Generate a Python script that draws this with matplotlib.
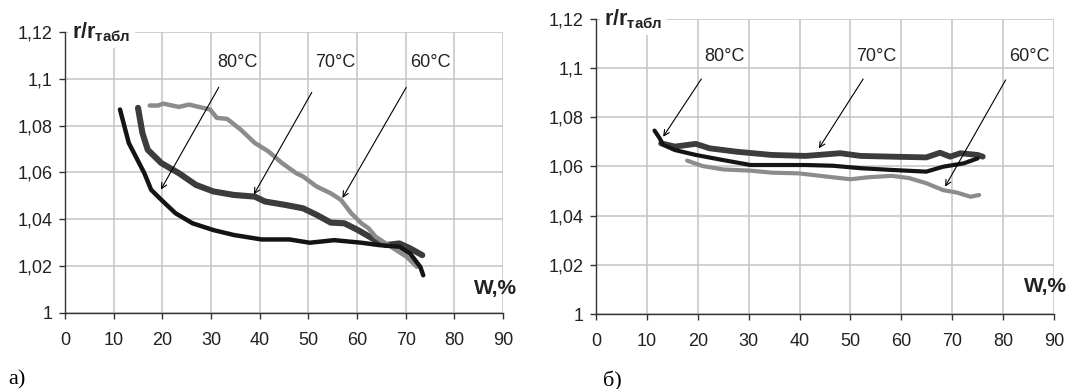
import matplotlib
matplotlib.use("Agg")
import matplotlib.pyplot as plt
from matplotlib.ticker import FuncFormatter, MultipleLocator

plt.rcParams["font.family"] = ["Liberation Sans", "DejaVu Sans"]
plt.rcParams["mathtext.fontset"] = "custom"
plt.rcParams["mathtext.rm"] = "Liberation Sans"
plt.rcParams["mathtext.bf"] = "Liberation Sans:bold"

# --- panel a) ---
a_w80 = [11.3, 13.1, 16.3, 17.7, 19.8, 22.7, 26.2, 30.5, 34.7, 40.4, 46.1, 50.3,
         55.3, 60.9, 64.5, 68.7, 70.9, 73.0, 73.6]
a_r80 = [1.0869, 1.0726, 1.0597, 1.0526, 1.0483, 1.0426, 1.0383, 1.0354, 1.0333,
         1.0314, 1.0314, 1.0300, 1.0311, 1.0300, 1.0290, 1.0283, 1.0254, 1.0197, 1.0161]
a_w70 = [15.0, 15.9, 17.0, 19.8, 23.4, 26.9, 30.5, 34.7, 39.0, 41.1, 45.4, 48.9,
         51.7, 54.6, 57.4, 60.2, 63.1, 65.9, 68.7, 70.9, 73.4]
a_r70 = [1.0876, 1.0769, 1.0697, 1.0640, 1.0597, 1.0547, 1.0519, 1.0504, 1.0497,
         1.0476, 1.0461, 1.0447, 1.0419, 1.0386, 1.0383, 1.0354, 1.0319, 1.0290,
         1.0297, 1.0276, 1.0247]
a_w60 = [17.4, 19.1, 20.2, 22.0, 23.4, 25.5, 28.3, 29.8, 31.2, 33.3, 36.1, 39.0,
         41.8, 44.6, 47.5, 48.9, 51.7, 54.6, 56.7, 58.8, 60.9, 62.4, 63.8, 65.9,
         68.0, 70.2, 72.3]
a_r60 = [1.0886, 1.0886, 1.0894, 1.0886, 1.0880, 1.0890, 1.0876, 1.0869, 1.0833,
         1.0829, 1.0783, 1.0726, 1.0690, 1.0640, 1.0597, 1.0583, 1.0540, 1.0511,
         1.0483, 1.0426, 1.0383, 1.0361, 1.0326, 1.0297, 1.0269, 1.0240, 1.0197]

# --- panel б) ---
b_w80 = [11.5, 12.5, 13.2, 15.5, 19.6, 25.0, 30.4, 35.8, 41.2, 46.6, 52.0, 58.1,
         64.9, 68.2, 72.3, 75.0]
b_r80 = [1.0746, 1.0715, 1.0688, 1.0667, 1.0647, 1.0626, 1.0606, 1.0606, 1.0606,
         1.0603, 1.0593, 1.0586, 1.0579, 1.0599, 1.0613, 1.0633]
b_w70 = [12.8, 15.5, 19.6, 22.3, 27.7, 34.5, 41.2, 48.0, 52.0, 58.1, 64.9, 67.6,
         69.6, 71.6, 75.0, 76.0]
b_r70 = [1.0694, 1.0681, 1.0692, 1.0674, 1.0660, 1.0647, 1.0643, 1.0654, 1.0643,
         1.0640, 1.0637, 1.0656, 1.0640, 1.0654, 1.0647, 1.0640]
b_w60 = [17.9, 20.9, 25.0, 30.4, 34.5, 39.9, 45.3, 50.0, 53.4, 58.1, 61.5, 64.9,
         68.2, 70.9, 73.6, 75.3]
b_r60 = [1.0624, 1.0602, 1.0588, 1.0583, 1.0575, 1.0572, 1.0559, 1.0548, 1.0556,
         1.0562, 1.0553, 1.0532, 1.0504, 1.0494, 1.0477, 1.0484]

temps = ["80°C", "70°C", "60°C"]
# label centres and arrows (tail -> head) for each panel
a_lbl = [(35.4, 1.1069), (55.6, 1.1069), (75.1, 1.1069)]
a_arr = [((31.6, 1.0964), (19.7, 1.0527)),
         ((50.7, 1.0942), (38.8, 1.0506)),
         ((70.1, 1.0963), (57.0, 1.0491))]
b_lbl = [(25.3, 1.1047), (55.0, 1.1047), (85.1, 1.1047)]
b_arr = [((20.7, 1.0956), (13.2, 1.0721)),
         ((52.5, 1.0956), (43.8, 1.0674)),
         ((80.5, 1.0952), (68.6, 1.0518))]

fig = plt.figure(figsize=(10.71, 3.89), dpi=100)
ax_a = fig.add_axes([0.0607, 0.1954, 0.4090, 0.7224])
ax_b = fig.add_axes([0.5565, 0.1928, 0.4276, 0.7584])

fmt = FuncFormatter(lambda v, _: f"{v:g}".replace(".", ","))


def style(ax):
    ax.set_xlim(0, 90)
    ax.set_ylim(1, 1.12)
    ax.xaxis.set_major_locator(MultipleLocator(10))
    ax.yaxis.set_major_locator(MultipleLocator(0.02))
    ax.yaxis.set_major_formatter(fmt)
    ax.grid(True, color="#c4c4c4", lw=1.1)
    ax.set_axisbelow(True)
    for s in ("top", "right"):
        ax.spines[s].set_visible(False)
    for s in ("left", "bottom"):
        ax.spines[s].set_color("#333333")
        ax.spines[s].set_linewidth(1.0)
    ax.tick_params(direction="out", length=4, width=1, color="#333333",
                   labelsize=13, labelcolor="#222222")
    ax.tick_params(axis="x", pad=10)
    ax.tick_params(axis="y", pad=5)
    ax.text(1.5, 1.12, r"$\mathbf{r/r_{табл}}$", fontsize=15.5, ha="left",
            va="center", color="#222222",
            bbox=dict(facecolor="white", edgecolor="none", pad=3), zorder=5)


def panel(ax, w80, r80, w70, r70, w60, r60, lbl, arr, wx, wy, lw):
    style(ax)
    ax.plot(w70, r70, color="#3c3c3c", lw=lw + 1.2, solid_capstyle="round")
    ax.plot(w60, r60, color="#8c8c8c", lw=lw, solid_capstyle="round")
    ax.plot(w80, r80, color="#141414", lw=lw, solid_capstyle="round")
    for t, (x, y), (tail, head) in zip(temps, lbl, arr):
        ax.text(x, y, t, fontsize=13, ha="center", va="center", color="#222222")
        ax.annotate("", xy=head, xytext=tail,
                    arrowprops=dict(arrowstyle="->", color="black", lw=0.8,
                                    shrinkA=0, shrinkB=0))
    ax.text(wx, wy, "W,%", fontsize=15, fontweight="bold", ha="left",
            va="center", color="#222222", clip_on=False)


panel(ax_a, a_w80, a_r80, a_w70, a_r70, a_w60, a_r60, lbl=a_lbl, arr=a_arr,
      wx=84.0, wy=1.0105, lw=3.2)
panel(ax_b, b_w80, b_r80, b_w70, b_r70, b_w60, b_r60, lbl=b_lbl, arr=b_arr,
      wx=84.2, wy=1.011, lw=3.0)

fig.text(8 / 1071, 1 - 384 / 389, "а)", family="Liberation Serif", fontsize=16)
fig.text(603 / 1071, 1 - 386 / 389, "б)", family="Liberation Serif", fontsize=16)

fig.savefig("out.png", dpi=100)
